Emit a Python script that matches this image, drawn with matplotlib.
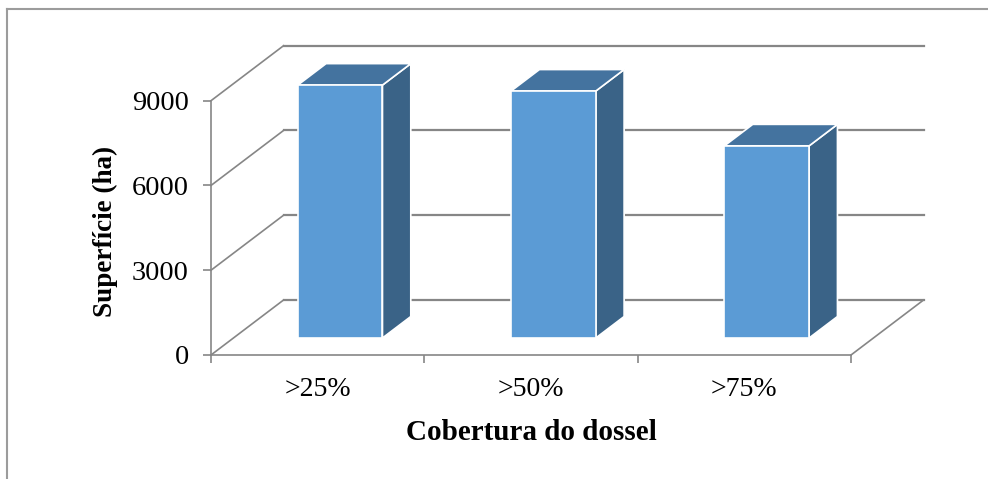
import matplotlib.pyplot as plt
from matplotlib.lines import Line2D
from matplotlib.patches import Polygon

# canopy cover classes and area (ha)
categories = [">25%", ">50%", ">75%"]
area_ha = [8950, 8740, 6800]
y_ticks = [0, 3000, 6000, 9000]

# pseudo-3d look: offset of the back wall, in data units
depth_x = 0.34
depth_y = 1946
bar_width = 0.397
bar_front = 0.31   # depth fraction where a bar starts
bar_back = 0.70    # depth fraction where a bar ends

grid_color = "#868686"
face_color = "#5B9BD5"
top_color = "#44739F"
side_color = "#3A6387"

plt.rcParams["font.family"] = ["Liberation Serif", "DejaVu Serif"]

fig = plt.figure(figsize=(9.88, 4.79), dpi=100)
ax = fig.add_axes([211 / 988, 124 / 479, 640 / 988, 254.3 / 479])
ax.set_xlim(0, len(categories))
ax.set_ylim(0, y_ticks[-1])

# chart frame (only top and left edges fall inside the image)
fx, fy = 6.5 / 988, 1 - 8.5 / 479
fig.add_artist(Line2D([fx, 1.0], [fy, fy], transform=fig.transFigure,
                      color="#9c9c9c", lw=1.5))
fig.add_artist(Line2D([fx, fx], [0.0, fy], transform=fig.transFigure,
                      color="#9c9c9c", lw=1.5))

n = len(categories)
# back wall gridlines and left wall diagonals
for v in y_ticks:
    ax.plot([depth_x, n + depth_x], [v + depth_y, v + depth_y],
            color=grid_color, lw=1.6, clip_on=False, zorder=1)
    ax.plot([0, depth_x], [v, v + depth_y],
            color=grid_color, lw=1.2, clip_on=False, zorder=1)
# right floor edge
ax.plot([n, n + depth_x], [0, depth_y], color=grid_color, lw=1.2,
        clip_on=False, zorder=1)

for i, val in enumerate(area_ha):
    x0 = i + 0.5 - bar_width / 2 + bar_front * depth_x
    x1 = x0 + bar_width
    y0 = bar_front * depth_y
    y1 = val + y0
    ddx = (bar_back - bar_front) * depth_x
    ddy = (bar_back - bar_front) * depth_y
    front = Polygon([(x0, y0), (x1, y0), (x1, y1), (x0, y1)],
                    facecolor=face_color, edgecolor="white", lw=1.2,
                    clip_on=False, zorder=3)
    top = Polygon([(x0, y1), (x1, y1), (x1 + ddx, y1 + ddy), (x0 + ddx, y1 + ddy)],
                  facecolor=top_color, edgecolor="white", lw=1.2,
                  clip_on=False, zorder=3)
    side = Polygon([(x1, y0), (x1 + ddx, y0 + ddy), (x1 + ddx, y1 + ddy), (x1, y1)],
                   facecolor=side_color, edgecolor="white", lw=1.2,
                   clip_on=False, zorder=3)
    ax.add_patch(side)
    ax.add_patch(top)
    ax.add_patch(front)

for s in ["top", "right"]:
    ax.spines[s].set_visible(False)
for s in ["left", "bottom"]:
    ax.spines[s].set_color(grid_color)
    ax.spines[s].set_linewidth(1.2)
ax.patch.set_visible(False)

ax.set_yticks(y_ticks)
ax.set_yticklabels([str(t) for t in y_ticks])
ax.tick_params(axis="y", direction="out", length=6, width=1.2,
               color=grid_color, pad=10, labelsize=20.5)
ax.set_xticks(range(n + 1))
ax.set_xticklabels([""] * (n + 1))
ax.set_xticks([i + 0.5 for i in range(n)], minor=True)
ax.set_xticklabels(categories, minor=True)
ax.tick_params(axis="x", which="major", direction="out", length=6,
               width=1.2, color=grid_color)
ax.tick_params(axis="x", which="minor", length=0, pad=16, labelsize=20)

ax.set_ylabel("Superfície (ha)", fontsize=19.5, fontweight="bold", va="center")
ax.yaxis.set_label_coords(-0.165, 0.485)
ax.set_xlabel("Cobertura do dossel", fontsize=21, fontweight="bold", va="center")
ax.xaxis.set_label_coords(0.5, -0.303)

fig.savefig("out.png", dpi=100)
